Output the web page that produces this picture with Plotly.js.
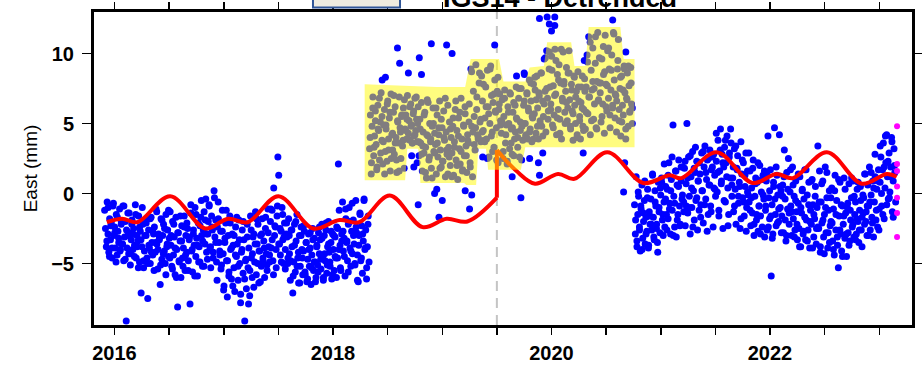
<!DOCTYPE html>
<html><head><meta charset="utf-8">
<script src="https://cdn.plot.ly/plotly-3.0.1.min.js"></script>
<style>html,body{margin:0;padding:0;background:#fff}#chart{width:922px;height:376px}</style>
</head><body><div id="chart"></div>
<script>
// ---------------- data ----------------
const titleText = 'IGS14 - Detrended';
const yTitle = 'East (mm)';
const xTickVals = [2016,2016.5,2017,2017.5,2018,2018.5,2019,2019.5,2020,2020.5,2021,2021.5,2022,2022.5,2023];
const xTickText = ['2016','','','','2018','','','','2020','','','','2022','',''];
const breakYear = 2019.5;

// segment A (daily solutions, decimal years), values in mm
const segAStart = 2015.91, segAEnd = 2018.33;
const segAVals = [
-1.2,-2.5,-3.8,-0.6,-2.9,-4.2,-1.8,-3.3,-2.1,-4.6,-0.9,-3.0,-2.4,-3.9,-1.5,-4.4,-2.7,-3.5,-1.1,-4.0,
-2.2,-3.6,-0.9,-4.8,-3.1,-2.0,-9.1,-3.9,-1.4,-4.3,-2.8,-5.1,-3.3,-1.9,-4.0,-2.5,-3.7,-0.8,-4.6,-3.0,
-3.4,-1.6,-4.9,-2.7,-7.1,-3.8,-2.2,-5.3,-4.1,-1.9,-3.0,-4.6,-7.5,-2.6,-3.9,-5.0,-1.7,-3.5,-4.4,-2.9,
-2.4,-4.2,-1.1,-3.6,-5.4,-2.9,-3.3,-6.5,-1.8,-4.7,-3.0,-2.2,-4.1,-5.0,-1.5,-3.8,-2.6,-4.5,-3.2,-1.3,
-3.7,-5.2,-2.0,-4.4,-3.1,-5.8,-1.7,-4.0,-8.1,-2.8,-4.9,-3.4,-6.0,-2.3,-4.6,-3.9,-1.6,-5.5,-3.0,-4.2,
-2.5,-4.8,-3.3,-7.9,-1.4,-4.1,-5.6,-2.9,-3.7,-1.0,-4.5,-3.2,-5.9,-2.1,-3.8,-4.9,-1.7,-3.0,-5.2,-2.6,
-1.3,-3.6,-0.4,-2.9,-4.7,-2.0,-0.8,-3.9,-5.3,-1.6,-2.6,-4.2,0.2,-3.1,-1.9,-4.9,-2.4,-0.6,-3.5,-4.4,
-2.7,-5.1,-1.2,-4.3,-6.6,-3.5,-2.1,-4.8,-7.4,-3.0,-5.6,-1.6,-4.0,-6.1,-2.9,-3.7,-5.3,-7.0,-2.4,-4.5,
-3.6,-6.2,-1.9,-5.0,-7.8,-4.2,-2.6,-5.7,-3.3,-9.1,-4.8,-6.8,-2.2,-5.3,-3.9,-7.3,-1.6,-4.6,-6.0,-3.1,
-2.9,-4.9,-1.3,-5.8,-3.6,-2.2,-6.4,-4.1,-3.0,-5.2,-1.8,-4.6,-3.4,-6.0,-2.5,-4.3,-5.5,-1.1,-3.8,-4.9,
-2.0,-3.9,-1.2,-4.8,0.4,-3.0,-2.4,-5.3,-1.6,2.6,1.3,-3.6,-4.4,-2.7,-1.0,-3.3,-5.0,-2.1,-4.0,-2.9,
-3.1,-5.0,-1.8,-4.3,-6.2,-2.6,-3.8,-7.1,-4.9,-2.2,-5.6,-3.4,-1.5,-4.6,-6.4,-3.0,-5.2,-2.4,-4.0,-5.8,
-4.1,-2.7,-5.8,-3.5,-6.3,-4.7,-2.9,-5.2,-3.9,-6.5,-4.4,-2.5,-5.5,-3.2,-4.9,-6.0,-3.7,-5.1,-2.8,-4.3,
-3.3,-5.4,-2.2,-4.5,-6.0,-3.0,-4.8,-2.6,-5.7,-3.8,-2.0,-4.2,-5.2,-3.5,-6.1,-2.9,-4.0,-5.5,-3.1,-4.6,
-2.4,-4.6,2.1,-1.2,-3.7,-5.5,-2.9,-0.6,-4.1,-3.2,-5.9,-1.8,-3.5,-4.8,-2.2,-1.0,-3.9,-5.2,-2.7,-4.3,
-1.9,-3.6,-5.1,-0.5,-2.8,-4.4,-6.3,-3.0,-1.4,-4.8,-2.3,-5.7,-3.4,-0.4,-4.0,-2.6,-6.1,-3.8,-1.6,-4.9
];
const segA2Start = 2015.93, segA2End = 2018.32;
const segA2Vals = [
-3.4,-1.0,-4.5,-2.3,-3.9,-0.7,-2.8,-4.9,-1.7,-3.2,-4.1,-2.0,-3.6,-0.9,-4.7,-2.6,-3.0,-1.4,-4.3,-2.2,
-2.9,-4.5,-1.5,-3.8,-5.3,-2.4,-3.3,-1.0,-4.8,-3.0,-2.1,-5.0,-3.7,-1.8,-4.2,-2.7,-5.5,-3.5,-1.3,-4.0,
-3.2,-5.1,-1.9,-4.3,-2.5,-5.8,-3.6,-1.2,-4.6,-3.0,-5.4,-2.2,-3.9,-6.0,-2.8,-4.8,-1.6,-3.4,-5.2,-2.4,
-4.4,-2.1,-5.5,-3.1,-0.8,-4.0,-2.6,-5.9,-1.5,-3.7,-4.9,-2.3,-0.5,-3.4,-5.2,-1.9,-4.2,-2.9,-0.9,-3.8,
-2.4,-4.6,-0.3,-3.5,-6.2,-1.8,-4.1,-5.4,-2.7,-6.9,-3.2,-1.2,-4.8,-5.9,-2.1,-3.9,-6.6,-3.0,-4.4,-1.7,
-5.2,-3.3,-7.2,-4.0,-2.0,-6.1,-4.7,-3.1,-7.9,-5.5,-2.6,-4.3,-6.7,-3.6,-1.8,-5.0,-4.1,-6.3,-2.9,-4.8,
-3.9,-1.7,-5.1,-2.8,-4.4,-1.1,-3.3,-5.8,-2.3,-4.0,-0.9,-3.6,-2.5,-4.9,-1.5,-3.1,-5.4,-2.1,-4.6,-3.0,
-4.8,-2.6,-5.9,-3.7,-2.0,-5.2,-4.2,-6.4,-3.0,-4.6,-2.3,-5.6,-3.5,-6.1,-4.0,-2.8,-5.3,-3.3,-4.9,-6.3,
-3.8,-5.6,-2.4,-4.7,-3.2,-6.2,-4.3,-2.1,-5.1,-3.6,-4.9,-2.7,-5.8,-3.0,-4.5,-6.0,-2.5,-4.0,-5.3,-3.4,
-2.7,-4.5,-1.1,-3.4,-5.6,-2.0,-4.1,-0.7,-3.0,-5.0,-2.4,-6.2,-3.7,-1.5,-4.6,-2.9,-0.5,-3.9,-5.3,-2.2
];

// segment B (highlighted period)
const segBStart = 2018.335, segBEnd = 2020.74;
const segBVals = [
3.2,5.6,1.4,4.8,6.9,2.7,4.1,5.9,3.5,1.9,6.3,4.5,2.4,5.1,7.2,3.8,2.1,4.9,6.0,3.0,
4.6,2.3,6.6,3.9,5.4,1.6,7.1,4.2,3.1,5.8,2.8,6.2,4.0,1.5,5.2,3.6,6.9,4.7,2.5,5.5,
3.4,6.1,1.8,4.6,5.6,3.9,7.0,4.3,5.2,3.8,6.4,4.9,3.6,5.7,4.1,6.8,4.5,5.3,3.7,6.2,
2.7,5.3,3.6,6.5,1.6,4.4,2.9,5.8,3.3,1.1,6.7,4.1,2.4,5.0,3.7,1.8,4.8,6.1,3.0,4.3,
3.5,1.4,5.6,2.6,4.2,6.6,3.1,1.9,4.7,2.3,5.9,3.8,1.2,4.4,2.8,6.3,3.3,5.1,2.0,4.0,
2.9,4.8,1.3,3.7,6.0,2.4,4.5,1.0,5.4,3.2,2.1,6.8,3.9,1.7,4.9,2.7,5.7,3.4,1.5,4.2,
3.6,6.4,2.2,8.9,4.8,1.2,7.3,5.5,3.1,9.2,6.0,4.2,4.0,7.9,5.1,3.7,8.4,6.6,4.5,3.8,
5.4,7.6,3.9,8.8,6.2,2.6,5.0,9.1,7.0,4.4,6.5,3.3,8.1,5.8,4.7,7.3,2.2,6.0,7.1,5.2,
4.3,6.7,2.5,5.5,7.4,3.6,4.9,2.1,6.2,5.0,3.2,7.1,4.6,2.8,5.8,6.5,3.9,4.4,7.6,5.3,
4.0,6.8,2.6,5.1,7.5,4.8,3.8,6.3,8.5,5.0,4.2,7.2,3.9,5.9,8.1,4.6,6.6,3.7,5.4,7.8,
5.7,7.4,4.3,8.4,6.1,3.9,7.0,5.2,8.6,4.8,6.6,5.5,9.6,7.3,4.4,10.2,6.8,5.9,8.9,7.6,
6.4,9.8,4.9,7.7,5.6,10.3,7.1,4.2,8.5,6.0,9.2,5.3,7.9,3.9,6.8,10.1,8.0,5.8,7.3,6.5,
5.2,8.6,10.2,6.7,4.6,7.8,5.9,3.8,8.4,6.3,5.0,7.3,4.2,8.7,6.6,5.5,3.9,7.6,6.1,4.8,
6.0,8.2,4.6,7.6,9.9,5.7,11.2,6.9,4.2,8.8,7.4,10.4,5.3,6.4,9.3,4.7,8.0,11.5,6.7,7.9,
7.2,5.1,9.6,6.4,8.5,4.3,11.3,7.8,5.9,10.2,6.8,8.9,4.7,7.4,9.9,6.1,11.5,8.1,5.4,7.0,
6.6,8.9,11.0,5.2,7.5,4.1,8.4,6.3,5.6,9.1,7.2,3.9,6.8,8.6,4.8,7.7,5.9,9.0,6.4,5.0
];
const segB2Start = 2018.34, segB2End = 2020.74;
const segB2Vals = [
4.0,2.2,6.1,3.3,5.2,1.7,4.6,6.8,2.9,5.5,3.7,1.4,4.9,6.4,3.1,5.8,2.5,4.3,7.0,3.6,
2.4,5.1,1.6,4.4,5.6,3.8,6.7,4.5,5.3,3.9,6.2,4.8,3.6,5.9,4.2,6.9,5.0,3.7,4.6,2.8,
3.4,5.6,1.5,4.2,6.5,2.6,3.9,1.1,5.0,2.9,6.1,3.6,4.7,1.8,5.3,2.3,4.0,6.8,3.1,1.4,
2.6,4.6,1.2,5.4,3.3,6.6,2.0,4.1,5.8,3.0,1.6,4.8,6.2,2.7,3.8,5.1,1.9,8.7,4.4,3.5,
4.7,6.9,3.9,8.6,5.3,4.4,7.8,3.7,6.2,2.5,5.7,8.9,4.1,3.0,7.1,5.9,2.4,8.3,6.4,4.9,
5.1,3.0,6.8,4.2,2.3,5.8,7.2,3.6,4.7,2.7,6.3,5.4,3.3,7.5,4.5,2.4,5.0,6.6,4.1,7.1,
6.1,4.4,7.9,5.5,3.9,8.3,6.7,4.8,7.2,5.0,8.6,4.1,6.4,9.7,7.5,5.3,10.1,6.0,8.8,4.7,
7.0,9.5,5.4,8.1,4.3,10.3,6.6,7.8,5.0,9.0,6.1,8.6,4.8,7.4,5.7,8.3,6.9,4.0,7.6,5.2,
6.5,8.4,4.5,7.3,5.8,9.4,6.9,10.8,5.2,8.0,7.5,11.2,4.6,6.6,9.7,7.9,5.5,10.5,8.7,6.2,
7.7,10.4,5.6,8.8,6.3,11.4,7.1,4.4,9.5,6.0,8.3,5.1,7.4,8.9,4.6,6.7,9.1,5.8,7.9,6.1
];

// scattered points of the highlighted period lying outside the band
const outYears = [2018.45,2018.48,2018.59,2018.61,2018.69,2018.79,2018.81,2018.90,2019.04,2019.09,2019.48,2019.68,2019.75,
  2019.89,2019.96,2020.03,2019.98,2020.03,2020.00,2020.30,2020.56,2020.68,
  2018.72,2018.74,2018.77,2018.78,2018.93,2018.95,2018.97,2019.00,2019.21,2019.25,2019.27,2019.37,2019.64,2019.72,
  2019.80,2019.88,2019.89,2019.92,2020.29,2020.66,2020.67];
const outVals  = [8.1,8.3,10.4,9.3,8.6,9.7,8.5,10.7,10.6,10.0,10.6,8.4,8.6,
  12.5,12.6,12.6,12.1,12.0,11.6,9.5,12.4,10.1,
  2.7,1.9,2.2,-0.8,0.0,0.3,-1.7,-0.5,0.2,-1.1,-0.1,2.6,1.2,-0.3,
  2.5,2.2,1.3,2.9,2.9,0.1,2.2];

// segment C
const segCStart = 2020.76, segCEnd = 2023.15;
const segCVals = [
-0.8,-2.9,1.2,-3.8,-1.5,-0.2,-2.4,-4.1,-1.1,0.6,-3.2,-2.0,-0.5,-3.6,-1.7,-2.7,0.3,-3.9,-1.3,-2.2,
-0.4,-2.6,1.4,-1.7,-3.3,0.2,-0.9,-2.2,-3.5,0.8,-1.3,-2.8,-0.1,1.1,-1.9,-3.0,-0.6,-2.4,0.5,-1.5,
0.3,-1.8,2.2,-0.7,-2.9,1.0,-1.2,4.9,-0.2,-2.4,1.6,-3.1,0.6,-1.5,2.4,-0.9,-2.2,0.9,-0.4,1.9,
-0.6,1.8,-2.3,0.7,5.0,-1.4,2.6,-0.2,-2.9,1.2,-1.0,3.0,0.2,-1.9,1.5,-0.5,2.3,-2.6,0.9,-1.2,
1.4,-0.8,2.9,0.2,-2.1,1.9,3.4,-0.4,1.0,2.4,-1.5,0.6,3.1,-0.9,1.7,2.6,-2.4,0.4,1.3,-0.2,
2.3,0.1,3.8,-1.2,1.6,4.6,0.7,2.8,-2.5,1.9,3.3,-0.6,2.2,4.1,0.4,-1.5,2.9,1.1,3.6,-0.2,
1.1,-1.3,3.2,0.3,-2.2,1.8,2.7,-0.7,0.8,-2.5,3.7,1.4,-0.3,2.2,-1.6,0.5,2.9,-1.0,1.6,-0.1,
-0.6,1.6,-2.3,0.4,-1.4,2.4,-3.0,-0.2,1.1,-1.9,0.8,-2.7,-0.9,2.0,-1.6,0.1,-2.4,1.3,-0.4,-3.1,
-1.2,0.9,-2.6,4.1,-0.3,-1.8,1.7,-5.9,-0.8,-2.9,0.5,4.7,-1.5,-2.3,1.3,-0.1,-2.0,4.2,-1.0,0.2,
-1.6,0.6,-2.8,3.1,-0.4,-3.4,1.5,-1.1,2.5,-2.2,0.1,-0.9,-3.0,1.9,-1.8,-0.2,-2.6,0.9,-1.3,-3.3,
-0.7,-2.5,1.2,-3.8,-1.4,0.3,-2.9,-0.4,1.7,-3.3,-1.9,-0.1,-2.6,0.8,-3.9,-1.2,-2.2,1.0,-0.8,-3.1,
-1.8,0.5,-3.6,-1.0,3.4,-2.5,1.6,-4.2,-0.6,-2.1,0.9,-3.1,-1.5,1.9,-2.8,-0.3,-3.9,-1.2,0.2,-2.3,
-2.0,0.4,-3.4,-1.1,-4.4,1.3,-2.6,-0.5,-3.7,-5.3,-1.6,0.8,-2.9,-4.1,-0.9,-2.2,1.1,-3.2,-1.4,-4.5,
-1.0,-2.8,0.7,-3.4,-1.9,-0.3,-2.4,0.9,-3.1,-1.5,-0.6,-2.9,0.3,-2.0,-3.5,-1.2,0.5,-2.6,-1.7,-0.1,
-0.3,-2.2,1.4,-1.3,-3.0,0.6,-0.9,1.9,-2.6,-0.1,-1.7,0.9,-3.1,-0.6,1.2,-1.9,0.3,-2.4,1.7,-1.1,
0.8,2.6,-0.9,1.7,3.6,-1.8,0.4,2.2,4.2,1.2,-0.4,2.9,0.1,1.9,4.0,-1.3,0.9,3.2,1.5,-0.6
];
const segC2Start = 2020.77, segC2End = 2023.14;
const segC2Vals = [
-1.9,-3.4,0.1,-2.6,-0.9,-4.0,-1.4,0.9,-2.9,-0.3,-3.7,-1.6,-2.2,1.3,-3.1,-0.6,-2.5,-4.2,-1.0,0.4,
0.8,-1.5,2.1,-0.4,-2.6,1.3,-1.1,0.2,2.6,-3.0,-0.7,1.6,-1.9,0.5,-2.3,1.9,-0.1,-1.3,2.3,-0.9,
1.1,-1.0,2.7,0.4,-2.4,1.8,3.3,-0.3,0.9,2.2,-1.7,0.2,3.0,-0.8,1.5,-2.7,2.5,0.6,-1.3,1.9,
2.8,0.3,4.3,1.5,-1.6,3.1,0.9,2.2,-0.5,3.8,1.2,-2.3,2.6,4.6,0.6,1.9,-0.9,3.4,1.7,-0.2,
0.5,-1.8,2.4,-0.6,1.3,-2.7,0.1,2.9,-1.2,-0.3,1.8,-2.2,0.7,-1.5,2.2,-0.9,-2.9,1.0,-0.1,1.6,
-0.9,1.4,-2.4,0.2,-1.6,-3.2,0.8,-0.4,1.9,-2.1,-1.1,0.5,-2.8,-0.2,1.2,-1.9,-3.0,0.3,-1.4,1.7,
-1.3,0.6,-3.1,-0.5,-2.2,1.4,-3.8,-1.0,0.2,-2.7,-1.7,1.7,-3.4,-0.8,-2.0,0.9,-3.9,-1.5,-0.2,-2.5,
-2.4,-0.6,-3.8,0.7,-1.9,-4.3,-1.0,1.5,-2.8,-3.5,-0.3,-2.1,-4.0,0.2,-1.5,-3.1,1.0,-2.6,-0.8,-4.5,
-1.6,0.3,-2.9,-0.7,-3.7,-1.2,1.1,-2.2,-0.2,-3.3,-1.8,0.8,-2.6,-0.5,-3.8,-1.4,1.4,-2.0,-0.9,-3.0,
-0.6,1.5,-2.1,0.4,2.8,-1.2,0.9,-2.6,3.4,0.0,-1.5,1.9,4.1,-0.8,2.3,-0.3,1.2,3.7,-1.7,2.0
];

// latest (magenta) points
const lastYears = [2023.163,2023.163,2023.163,2023.163,2023.163,2023.163,2023.163];
const lastVals  = [4.8,2.1,1.6,0.5,-0.3,-1.4,-3.1];

// model (seasonal fit) before and after the break
const modelAYears = [2015.93,2016.07,2016.21,2016.51,2016.83,2017.04,2017.22,2017.50,2017.82,2018.06,2018.24,2018.52,2018.82,2019.04,2019.23,2019.50];
const modelAVals  = [-2.05,-1.8,-2.05,-0.2,-2.5,-1.8,-2.05,-0.2,-2.5,-1.9,-2.05,-0.15,-2.4,-1.8,-2.0,-0.3];
const modelBYears = [2019.50,2019.68,2019.85,2020.06,2020.21,2020.51,2020.84,2021.08,2021.19,2021.51,2021.84,2022.06,2022.21,2022.52,2022.84,2023.07,2023.16];
const modelBVals  = [3.1,1.6,0.7,1.4,1.05,2.95,0.75,1.3,1.1,2.95,0.75,1.4,1.1,2.95,0.7,1.4,1.2];

// highlight band outline (decimal year, mm)
const bandYears = [2018.29,2018.95,2019.21,2019.26,2019.52,2019.56,2019.76,2019.80,2019.93,2019.96,2020.18,2020.21,2020.31,2020.34,2020.63,2020.66,2020.76,
                   2020.76,2019.76,2019.72,2019.42,2019.40,2019.33,2019.31,2019.22,2019.20,2018.80,2018.78,2018.68,2018.66,2018.29];
const bandVals  = [7.8,7.6,7.6,9.6,9.6,8.0,8.0,9.0,9.1,10.8,10.8,9.1,9.1,11.9,11.9,9.6,9.6,
                   3.3,3.3,1.7,1.7,3.2,3.2,0.6,0.6,0.75,0.75,3.2,3.2,0.95,0.95];

// ---------------- drawing ----------------
function spread(a, b, n){ const o=[]; for(let i=0;i<n;i++) o.push(a+(b-a)*i/(n-1)); return o; }

const blueMarker = {color:'#0000ff', size:7, line:{width:0}};
function dots(x, y){ return {x:x, y:y, mode:'markers', type:'scatter', marker: blueMarker, hoverinfo:'skip'}; }
const traces = [
  dots(spread(segAStart, segAEnd, segAVals.length), segAVals),
  dots(spread(segA2Start, segA2End, segA2Vals.length), segA2Vals),
  dots(spread(segBStart, segBEnd, segBVals.length), segBVals),
  dots(spread(segB2Start, segB2End, segB2Vals.length), segB2Vals),
  dots(outYears, outVals),
  dots(spread(segCStart, segCEnd, segCVals.length), segCVals),
  dots(spread(segC2Start, segC2End, segC2Vals.length), segC2Vals),
  {x: modelAYears, y: modelAVals, mode:'lines', type:'scatter', line:{color:'#ff0000', width:4, shape:'spline', smoothing:1}, hoverinfo:'skip'},
  {x: [modelAYears[modelAYears.length-1], modelBYears[0]], y: [modelAVals[modelAVals.length-1], modelBVals[0]], mode:'lines', type:'scatter', line:{color:'#ff0000', width:4}, hoverinfo:'skip'},
  {x: modelBYears, y: modelBVals, mode:'lines', type:'scatter', line:{color:'#ff0000', width:4, shape:'spline', smoothing:1}, hoverinfo:'skip'},
  {x: bandYears, y: bandVals, mode:'lines', type:'scatter', fill:'toself', fillcolor:'rgba(255,250,0,0.5)', line:{width:0, color:'rgba(0,0,0,0)'}, hoverinfo:'skip'},
  {x: lastYears, y: lastVals, mode:'markers', type:'scatter', marker:{color:'#ff00ff', size:6, line:{width:0}}, hoverinfo:'skip'}
];

const tickFont = {family:'Liberation Sans, Arial, sans-serif', size:20, color:'#000', weight:'bold'};
const layout = {
  width:922, height:376,
  margin:{l:94, r:10, t:12, b:51},
  paper_bgcolor:'#fff', plot_bgcolor:'#fff',
  showlegend:false,
  xaxis:{range:[2015.8124, 2023.2998], tickvals:xTickVals, ticktext:xTickText, ticks:'outside', ticklen:7, tickwidth:1.5, tickcolor:'#000',
         showline:true, linewidth:3, linecolor:'#000', mirror:'allticks', showgrid:false, zeroline:false, tickfont:tickFont, ticklabelstandoff:1},
  yaxis:{range:[-9.393, 12.964], tick0:0, dtick:5, ticks:'outside', ticklen:9, tickwidth:1.5, tickcolor:'#000',
         showline:true, linewidth:3, linecolor:'#000', mirror:'allticks', showgrid:false, zeroline:false, tickfont:tickFont, ticklabelstandoff:4,
         title:{text:yTitle, font:{family:'Liberation Sans, Arial, sans-serif', size:19, color:'#000'}, standoff:9}},
  shapes:[
    {type:'line', xref:'x', yref:'paper', x0:breakYear, x1:breakYear, y0:0, y1:1, layer:'below', line:{color:'#c4c4c4', width:2, dash:'10px,7px'}},
    {type:'rect', xref:'paper', yref:'paper', x0:0.2677, x1:0.3741, y0:1.0144, y1:1.08, line:{color:'#2f5597', width:2}, fillcolor:'#eeebe0'}
  ],
  annotations:[
    {text:titleText, xref:'paper', yref:'paper', x:0.570, y:1.0447, xanchor:'center', yanchor:'middle', showarrow:false,
     font:{family:'Liberation Sans, Arial, sans-serif', size:27, color:'#000', weight:'bold'}}
  ]
};
Plotly.newPlot('chart', traces, layout, {staticPlot:true, displayModeBar:false});
</script></body></html>
